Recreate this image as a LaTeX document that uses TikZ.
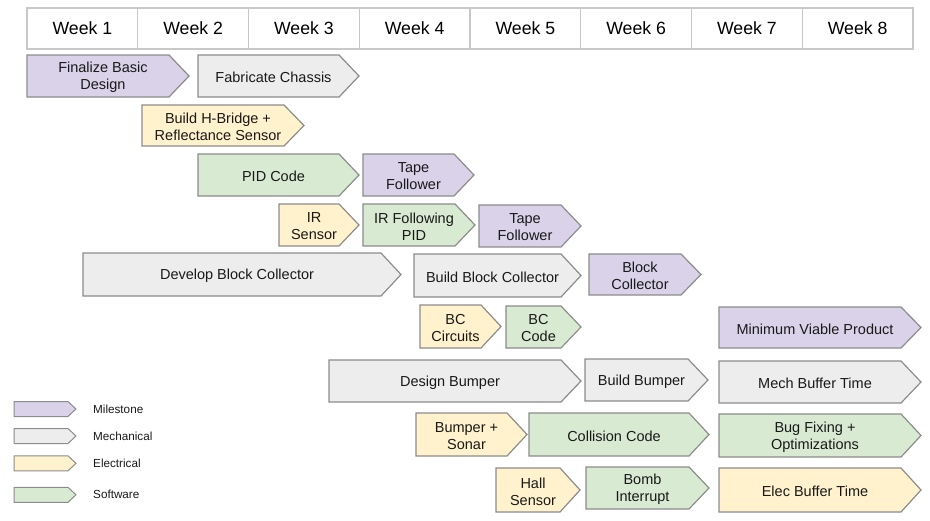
\documentclass[tikz,border=0pt]{standalone}
\usepackage{fontspec}
\setmainfont{Liberation Sans}
\usetikzlibrary{positioning}

\definecolor{milestone}{HTML}{D9D2E9}
\definecolor{mechanical}{HTML}{EDEDED}
\definecolor{electrical}{HTML}{FFF2CC}
\definecolor{software}{HTML}{D9EAD3}
\definecolor{edgegray}{HTML}{8C8C8C}
\definecolor{gridgray}{HTML}{C8C8C8}

\tikzset{
  weekbox/.style={draw=gridgray, fill=white, line width=1.2pt, minimum width=110.75pt, minimum height=41pt, inner sep=0pt, font=\fontsize{17.7}{20}\selectfont},
  chev/.style={draw=edgegray, line width=1.2pt, line join=miter},
  tasktext/.style={align=center, inner sep=0pt, yshift=-1.5pt, text=black!90, font=\fontsize{14.5}{17}\selectfont},
  legtext/.style={anchor=west, inner sep=0pt, text=black!90, font=\fontsize{11.7}{14}\selectfont},
}

% arrow bar: name, colour, left, right, top, bottom, text
\newcommand{\gtask}[7]{%
  \draw[chev, fill=#2] (#3,#5) -- ({#4-20},#5) -- (#4,{(#5+#6)/2}) -- ({#4-20},#6) -- (#3,#6) -- cycle;
  \node[tasktext] (#1) at ({(#3+#4-10)/2},{(#5+#6)/2}) {#7};
}

\begin{document}
\begin{tikzpicture}[x=1pt,y=-1pt]
  \useasboundingbox (0,0) rectangle (930,520);

  % weeks
  \foreach \i in {1,...,8}
    \node[weekbox] (week\i) at ({27+110.75*(\i-0.5)},28.5) {Week \i};

  \gtask{finalize}{milestone}{27}{189}{55}{97}{Finalize Basic\\Design}
  \gtask{chassis}{mechanical}{198}{359}{55}{97}{Fabricate Chassis}
  \gtask{hbridge}{electrical}{142}{304}{105}{146}{Build H-Bridge +\\Reflectance Sensor}
  \gtask{pidcode}{software}{198}{359}{154}{196}{PID Code}
  \gtask{tapeA}{milestone}{363}{474}{154}{196}{Tape\\Follower}
  \gtask{irsensor}{electrical}{279}{359}{204}{246}{IR\\Sensor}
  \gtask{irpid}{software}{363}{475}{204}{246}{IR Following\\PID}
  \gtask{tapeB}{milestone}{479}{581}{205}{247}{Tape\\Follower}
  \gtask{devbc}{mechanical}{83}{401}{253}{296}{Develop Block Collector}
  \gtask{buildbc}{mechanical}{414}{581}{254}{297}{Build Block Collector}
  \gtask{bcmile}{milestone}{589}{701}{254}{295}{Block\\Collector}
  \gtask{bccirc}{electrical}{420}{501}{305}{348}{BC\\Circuits}
  \gtask{bccode}{software}{506}{581}{306}{348}{BC\\Code}
  \gtask{mvp}{milestone}{719}{921}{307}{348}{Minimum Viable Product}
  \gtask{desbump}{mechanical}{329}{581}{360}{402}{Design Bumper}
  \gtask{buildbump}{mechanical}{585}{708}{359}{401}{Build Bumper}
  \gtask{mechbuf}{mechanical}{719}{921}{361}{403}{Mech Buffer Time}
  \gtask{bumpsonar}{electrical}{416}{527}{413}{456}{Bumper +\\Sonar}
  \gtask{collision}{software}{529}{709}{413}{456}{Collision Code}
  \gtask{bugfix}{software}{719}{921}{414}{457}{Bug Fixing +\\Optimizations}
  \gtask{hall}{electrical}{496}{580}{468}{512}{Hall\\Sensor}
  \gtask{bomb}{software}{586}{709}{467}{509}{Bomb\\Interrupt}
  \gtask{elecbuf}{electrical}{719}{921}{468}{512}{Elec Buffer Time}

  % legend
  \foreach \c/\t/\y in {milestone/Milestone/409, mechanical/Mechanical/436, electrical/Electrical/463.3, software/Software/494.8} {
    \draw[chev, line width=1pt, fill=\c] (14,\y-7.5) -- (68,\y-7.5) -- (76,\y) -- (68,\y+7.5) -- (14,\y+7.5) -- cycle;
    \node[legtext] (leg\c) at (93,\y) {\t};
  }
\end{tikzpicture}
\end{document}
